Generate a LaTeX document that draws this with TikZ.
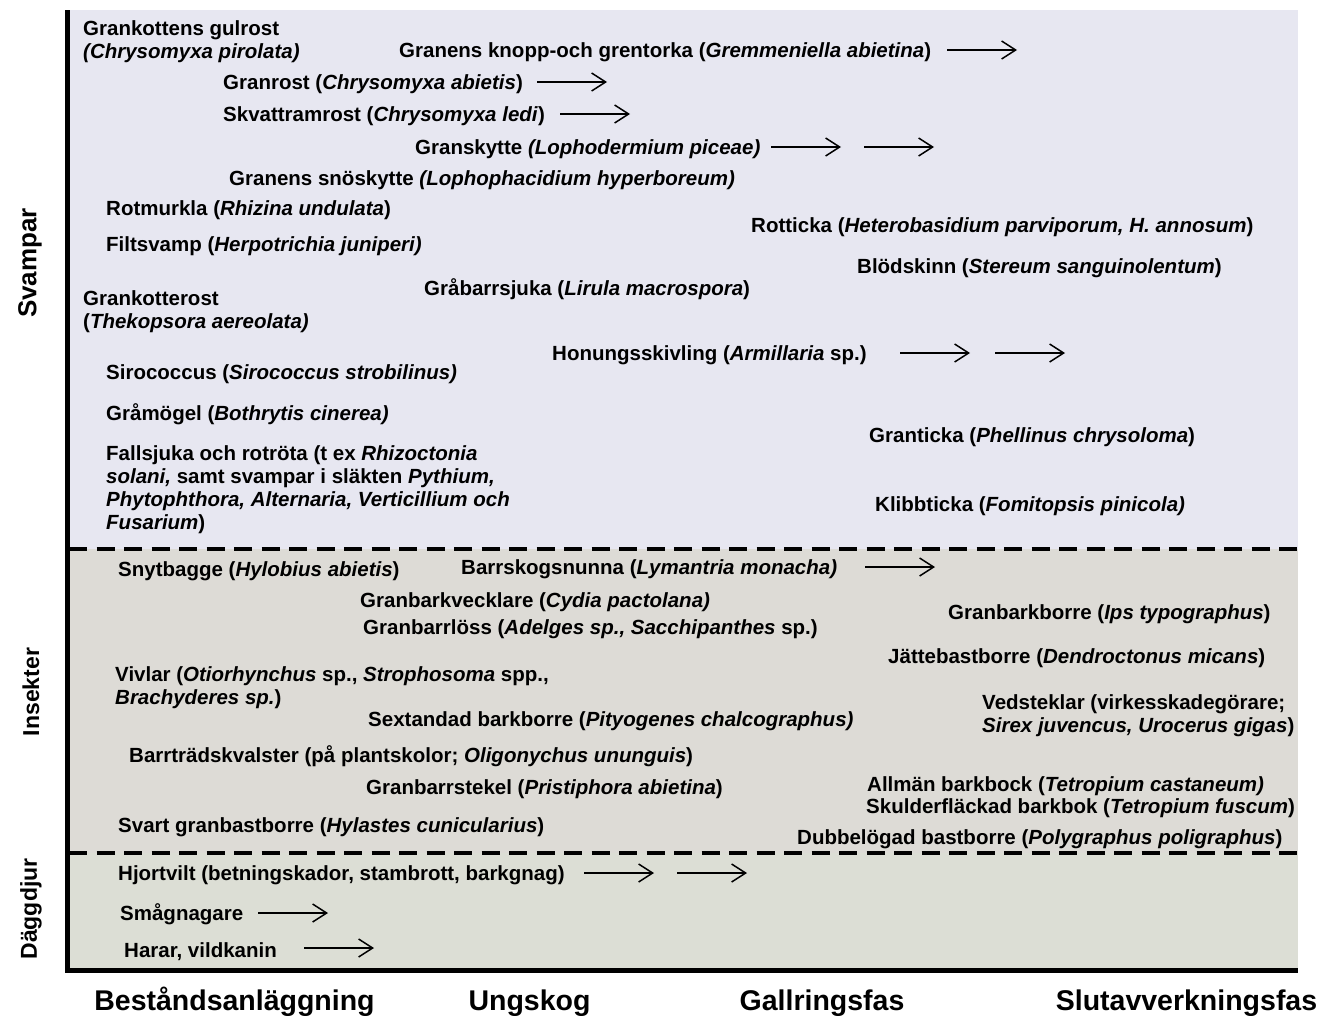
\documentclass[tikz,border=0pt]{standalone}
\usepackage{fontspec}
\setmainfont{Liberation Sans}
\usetikzlibrary{arrows.meta}

\definecolor{fungi}{RGB}{231,231,241}
\definecolor{insect}{RGB}{221,219,214}
\definecolor{mammal}{RGB}{220,222,213}

\begin{document}
\begin{tikzpicture}[x=1pt,y=-1pt,
  lbl/.style={font=\fontsize{20.5}{23}\selectfont\bfseries, inner sep=0pt, anchor=base west},
  lbltwo/.style={font=\fontsize{20.5}{23}\selectfont\bfseries, inner sep=0pt, anchor=west, align=left},
  phase/.style={font=\fontsize{28.5}{30}\selectfont\bfseries, inner sep=0pt, anchor=base},
  grp/.style={font=\fontsize{23}{25}\selectfont\bfseries, inner sep=0pt, rotate=90},
  arr/.style={line width=1.5pt, -{Straight Barb[length=14pt,width=18pt,line width=1.5pt]}},
  sep/.style={line width=3.6pt, dash pattern=on 18pt off 9.5pt},
]
\useasboundingbox (0,0) rectangle (1324,1015);
\fill[white] (0,0) rectangle (1324,1015);

% bands
\fill[fungi]  (67,10)  rectangle (1298,549);
\fill[insect] (67,549) rectangle (1298,853);
\fill[mammal] (67,853) rectangle (1298,970);

% band separators
\draw[sep] (69,549) -- (1298,549);
\draw[sep] (69,853) -- (1298,853);

% axes
\draw[line width=5pt] (67,10) -- (67,970) -- (1298,970);

% group labels
\node[grp, font=\fontsize{26}{28}\selectfont\bfseries] (svampar) at (30,263) {Svampar};
\node[grp] (insekter) at (31,692) {Insekter};
\node[grp] (daggdjur) at (31,909) {Däggdjur};

% phases
\node[phase] (p1) at (234.5,1010) {Beståndsanläggning};
\node[phase] (p2) at (529.5,1010) {Ungskog};
\node[phase] (p3) at (822,1010) {Gallringsfas};
\node[phase] (p4) at (1186.5,1010) {Slutavverkningsfas};

% ---- fungi ----
\node[lbltwo] (gulrost) at (83,42) {Grankottens gulrost\\\textit{(Chrysomyxa pirolata)}};
\node[lbl] (knopp) at (399,57.5) {Granens knopp-och grentorka (\textit{Gremmeniella abietina})};
\node[lbl] (granrost) at (223,89.5) {Granrost (\textit{Chrysomyxa abietis})};
\node[lbl] (skvattram) at (223,121.5) {Skvattramrost (\textit{Chrysomyxa ledi})};
\node[lbl] (granskytte) at (415,154.5) {Granskytte \textit{(Lophodermium piceae)}};
\node[lbl] (snoskytte) at (229,185.5) {Granens snöskytte \textit{(Lophophacidium hyperboreum)}};
\node[lbl] (rotmurkla) at (106,215.5) {Rotmurkla (\textit{Rhizina undulata})};
\node[lbl] (filtsvamp) at (106,251.5) {Filtsvamp (\textit{Herpotrichia juniperi)}};
\node[lbltwo] (kotterost) at (83,312) {Grankotterost\\(\textit{Thekopsora aereolata)}};
\node[lbl] (grabarr) at (424,295.5) {Gråbarrsjuka (\textit{Lirula macrospora})};
\node[lbl] (sirococcus) at (106,379.5) {Sirococcus (\textit{Sirococcus strobilinus)}};
\node[lbl] (honung) at (552,360.5) {Honungsskivling (\textit{Armillaria} sp.)};
\node[lbl] (gramogel) at (106,420.5) {Gråmögel (\textit{Bothrytis cinerea)}};
\node[lbltwo] (fallsjuka) at (106,489.4) {Fallsjuka och rotröta (t ex \textit{Rhizoctonia}\\\textit{solani,} samt svampar i släkten \textit{Pythium,}\\\textit{Phytophthora, Alternaria, Verticillium och}\\\textit{Fusarium})};
\node[lbl] (rotticka) at (751,232.5) {Rotticka (\textit{Heterobasidium parviporum, H. annosum})};
\node[lbl] (blodskinn) at (857,273.5) {Blödskinn (\textit{Stereum sanguinolentum})};
\node[lbl] (granticka) at (869,442.5) {Granticka (\textit{Phellinus chrysoloma})};
\node[lbl] (klibbticka) at (875,511.5) {Klibbticka (\textit{Fomitopsis pinicola)}};

% ---- insects ----
\node[lbl] (snytbagge) at (118,576.5) {Snytbagge (\textit{Hylobius abietis})};
\node[lbl] (nunna) at (461,574.5) {Barrskogsnunna (\textit{Lymantria monacha)}};
\node[lbl] (vecklare) at (360,607.5) {Granbarkvecklare (\textit{Cydia pactolana)}};
\node[lbl] (barrloss) at (363,634.5) {Granbarrlöss (\textit{Adelges sp., Sacchipanthes} sp.)};
\node[lbl] (ips) at (948,619.5) {Granbarkborre (\textit{Ips typographus})};
\node[lbl] (jatte) at (888,663.5) {Jättebastborre (\textit{Dendroctonus micans})};
\node[lbltwo] (vivlar) at (115,688) {Vivlar (\textit{Otiorhynchus} sp., \textit{Strophosoma} spp.,\\\textit{Brachyderes sp.})};
\node[lbl] (sextandad) at (368,726.5) {Sextandad barkborre (\textit{Pityogenes chalcographus)}};
\node[lbltwo] (vedsteklar) at (982,715.5) {Vedsteklar (virkesskadegörare;\\\textit{Sirex juvencus, Urocerus gigas})};
\node[lbl] (kvalster) at (129,762.5) {Barrträdskvalster (på plantskolor; \textit{Oligonychus ununguis})};
\node[lbl] (stekel) at (366,794.5) {Granbarrstekel (\textit{Pristiphora abietina})};
\node[lbl] (allman) at (867,791.5) {Allmän barkbock (\textit{Tetropium castaneum)}};
\node[lbl] (skulder) at (866,813.5) {Skulderfläckad barkbok (\textit{Tetropium fuscum})};
\node[lbl] (svart) at (118,832.5) {Svart granbastborre (\textit{Hylastes cunicularius})};
\node[lbl] (dubbel) at (797,844.5) {Dubbelögad bastborre (\textit{Polygraphus poligraphus})};

% ---- mammals ----
\node[lbl] (hjort) at (118,880.5) {Hjortvilt (betningskador, stambrott, barkgnag)};
\node[lbl] (smagn) at (120,920.5) {Smågnagare};
\node[lbl] (harar) at (124,957.5) {Harar, vildkanin};

% arrow end points
\coordinate (knoppA) at (947,50);   \coordinate (knoppB) at (1017,50);
\coordinate (rostA) at (537,82);    \coordinate (rostB) at (607,82);
\coordinate (skvA) at (560,114);    \coordinate (skvB) at (630,114);
\coordinate (skyA) at (771,147);    \coordinate (skyB) at (841,147);
\coordinate (skyC) at (864,147);    \coordinate (skyD) at (934,147);
\coordinate (honA) at (900,353);    \coordinate (honB) at (970,353);
\coordinate (honC) at (995,353);    \coordinate (honD) at (1065,353);
\coordinate (nunA) at (865,567);    \coordinate (nunB) at (935,567);
\coordinate (hjoA) at (584,873);    \coordinate (hjoB) at (654,873);
\coordinate (hjoC) at (677,873);    \coordinate (hjoD) at (747,873);
\coordinate (smaA) at (258,913);    \coordinate (smaB) at (328,913);
\coordinate (harA) at (304,948);    \coordinate (harB) at (374,948);

\draw[arr] (knoppA) -- (knoppB);
\draw[arr] (rostA) -- (rostB);
\draw[arr] (skvA) -- (skvB);
\draw[arr] (skyA) -- (skyB);
\draw[arr] (skyC) -- (skyD);
\draw[arr] (honA) -- (honB);
\draw[arr] (honC) -- (honD);
\draw[arr] (nunA) -- (nunB);
\draw[arr] (hjoA) -- (hjoB);
\draw[arr] (hjoC) -- (hjoD);
\draw[arr] (smaA) -- (smaB);
\draw[arr] (harA) -- (harB);
\end{tikzpicture}
\end{document}
